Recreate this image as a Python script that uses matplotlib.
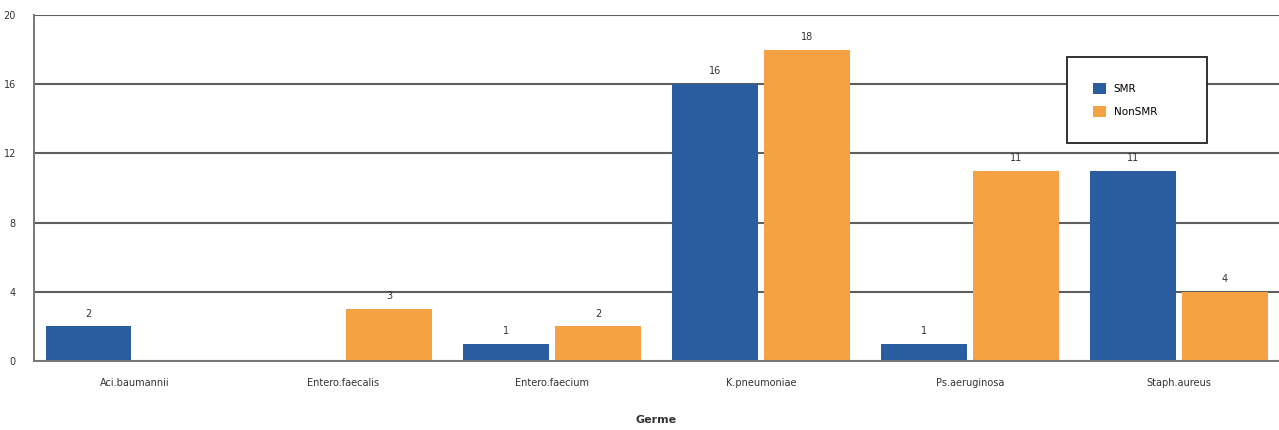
import matplotlib
matplotlib.use("Agg")
import matplotlib.pyplot as plt
import numpy as np

germes = ["Aci.baumannii", "Entero.faecalis", "Entero.faecium",
          "K.pneumoniae", "Ps.aeruginosa", "Staph.aureus"]
smr = [2, 0, 1, 16, 1, 11]
non_smr = [0, 3, 2, 18, 11, 4]
yticks = [0, 4, 8, 12, 16, 20]

blue = "#2a5d9f"
orange = "#f5a245"

fig = plt.figure(figsize=(12.79, 4.30), dpi=100)
ax = fig.add_axes([0.0266, 0.1605, 0.9734, 0.8045])

x = np.arange(len(germes))
w = 0.41
off = 0.22

ax.set_axisbelow(True)
ax.yaxis.grid(True, color="#5e5e5e", linewidth=1.5)
b1 = ax.bar(x - off, smr, w, color=blue, label="SMR")
b2 = ax.bar(x + off, non_smr, w, color=orange, label="NonSMR")

for bars, vals in ((b1, smr), (b2, non_smr)):
    for rect, v in zip(bars, vals):
        if v > 0:
            ax.text(rect.get_x() + rect.get_width() / 2, v + 0.45, str(v),
                    ha="center", va="bottom", fontsize=7, color="#333333")

ax.set_xlim(-0.48, len(germes) - 0.52)
ax.set_ylim(0, 20)
ax.set_yticks(yticks)
ax.set_xticks(x)
ax.set_xticklabels(germes, fontsize=7, color="#333333")
ax.tick_params(axis="y", labelsize=7, labelcolor="#333333", length=0, pad=13)
ax.tick_params(axis="x", length=0, pad=12)
ax.set_xlabel("Germe", fontsize=8, fontweight="bold", color="#333333", labelpad=20)

for s in ("top", "right"):
    ax.spines[s].set_visible(False)
ax.spines["left"].set_color("#777777")
ax.spines["left"].set_linewidth(1.4)
ax.spines["bottom"].set_color("#777777")
ax.spines["bottom"].set_linewidth(1.4)

# legend box spans a fixed width in axes coordinates
leg = ax.legend(loc="upper left", bbox_to_anchor=(0.8297, 0.8786, 0.1124, 0.0),
                mode="expand", fontsize=7.5, frameon=True, fancybox=False,
                borderpad=2.5, handlelength=1.2, handleheight=1.2,
                handletextpad=0.8, labelspacing=1.15, borderaxespad=0)
leg.get_frame().set_edgecolor("#222222")
leg.get_frame().set_linewidth(1.3)
leg.get_frame().set_alpha(1)

fig.savefig("out.png", dpi=100)
